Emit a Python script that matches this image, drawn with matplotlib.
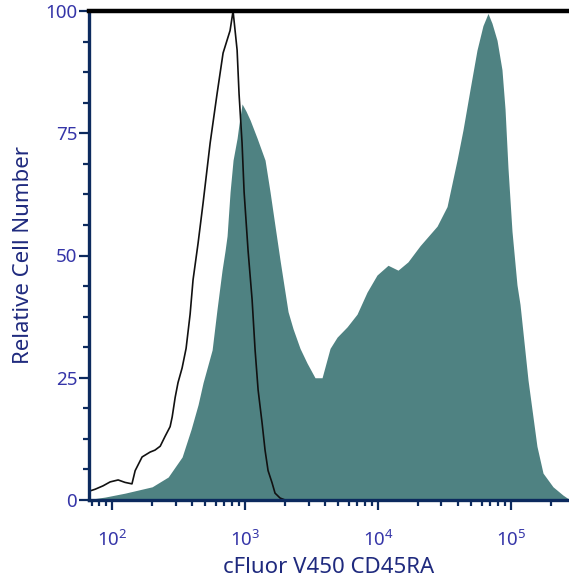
import numpy as np
import matplotlib
matplotlib.use("Agg")
import matplotlib.pyplot as plt
from matplotlib.ticker import LogLocator, MultipleLocator, FixedLocator

plt.rcParams["font.family"] = ["Noto Sans", "DejaVu Sans"]

# stained sample (filled histogram)
stained_x = [74.5, 88.5, 125, 200, 264, 336, 393, 443, 483, 565, 615, 671, 707, 732,
             771, 812, 871, 901, 949, 1017, 1091, 1231, 1413, 1541, 1680, 1833, 1932,
             2105, 2296, 2590, 2924, 3357, 3793, 4064, 4355, 4920, 5848, 6950, 8260,
             9817, 11890, 14130, 16790, 20700, 27790, 33030, 39260, 43550, 49200,
             55470, 61520, 67140, 71940, 78520, 85510, 90160, 94860, 101700, 110900,
             116900, 134300, 156700, 174100, 206900, 246000, 268500]
stained_y = [0.3, 0.6, 1.4, 2.7, 4.7, 8.8, 14.5, 19.5, 24, 30.7, 39, 47, 51, 54,
             63, 69.5, 74, 77, 81, 79.5, 77.7, 74, 69.5, 63, 56, 49, 45,
             38.5, 35, 31, 28, 25, 25, 28, 31, 33.3, 35.4, 38, 42.5,
             46, 48, 47, 48.7, 52, 56, 60, 69.5, 75.7, 84,
             92, 97, 99.5, 97.5, 94, 88, 80, 68, 55, 44,
             40, 24.5, 11, 5.5, 2.7, 1, 0.3]

# unstained control (black outline)
control_x = [67.1, 74.5, 85.5, 96.6, 111, 125, 141, 149, 168, 193, 210, 230, 250, 273,
             283, 298, 313, 336, 360, 386, 406, 443, 483, 546, 615, 683, 771, 812,
             871, 901, 949, 983, 1053, 1129, 1189, 1253, 1343, 1413, 1489, 1596,
             1680, 1833, 2000]
control_y = [1.8, 2.2, 2.9, 3.7, 4.1, 3.6, 3.3, 6, 8.8, 9.8, 10.2, 11, 13, 15,
             17, 21, 24, 27, 31, 38, 45, 52.5, 60.7, 73, 83, 91.4, 96, 100,
             92, 83, 73, 63, 51, 41, 30.7, 22.5, 15.7, 10.2, 6, 3.5,
             1.4, 0.4, 0]

y_ticks = [0, 25, 50, 75, 100]
x_ticks = [1e2, 1e3, 1e4, 1e5]

spine_col = "#0c2a5e"
tick_col = "#3535a8"
label_col = "#1f2a7e"

fig = plt.figure(figsize=(5.69, 5.79), dpi=100)
ax = fig.add_axes([89 / 569, 1 - 500 / 579, 1 - 89 / 569, (500 - 11) / 579])

ax.fill_between(stained_x, stained_y, 0, color="#4f8282", linewidth=0)
ax.plot(control_x, control_y, color="#111111", linewidth=1.2)

ax.set_xscale("log")
ax.set_xlim(67, 2.73e5)
ax.set_ylim(0, 100)

ax.xaxis.set_major_locator(FixedLocator(x_ticks))
ax.xaxis.set_minor_locator(LogLocator(base=10, subs=np.arange(2, 10)))
ax.yaxis.set_major_locator(FixedLocator(y_ticks))
ax.yaxis.set_minor_locator(MultipleLocator(6.25))

for side in ["left", "bottom"]:
    ax.spines[side].set_color(spine_col)
    ax.spines[side].set_linewidth(2.4)
ax.spines["top"].set_color("black")
ax.spines["top"].set_linewidth(3.2)
ax.spines["right"].set_visible(False)

ax.tick_params(axis="both", which="major", direction="out", length=7.5, width=1.6,
               color=spine_col, labelcolor=tick_col, labelsize=13.5)
ax.tick_params(axis="both", which="minor", direction="out", length=4, width=1.6,
               color=spine_col)
ax.tick_params(axis="x", which="major", pad=14)
ax.tick_params(axis="y", which="major", pad=1)

ax.set_xlabel("cFluor V450 CD45RA", fontsize=16, color=label_col, labelpad=5)
ax.set_ylabel("Relative Cell Number", fontsize=16, color=label_col, labelpad=8)

fig.savefig("out.png", dpi=100)
